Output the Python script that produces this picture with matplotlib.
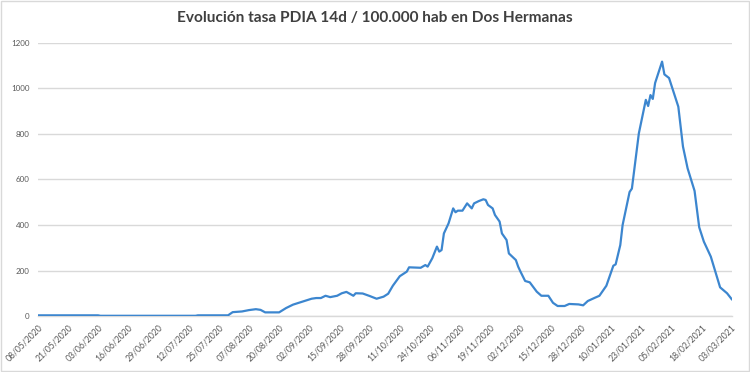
import matplotlib
matplotlib.use("Agg")
import matplotlib.pyplot as plt
from matplotlib.patches import Rectangle
import pandas as pd

title = "Evolución tasa PDIA 14d / 100.000 hab en Dos Hermanas"

dates = [
    "2020-05-08", "2020-06-03", "2020-06-04", "2020-07-15", "2020-07-16", "2020-07-29",
    "2020-07-31", "2020-08-04", "2020-08-07", "2020-08-10", "2020-08-12", "2020-08-14",
    "2020-08-20", "2020-08-23", "2020-08-26", "2020-08-30", "2020-09-03", "2020-09-05",
    "2020-09-07", "2020-09-09", "2020-09-11", "2020-09-14", "2020-09-16", "2020-09-18",
    "2020-09-21", "2020-09-22", "2020-09-25", "2020-09-28", "2020-10-01", "2020-10-04",
    "2020-10-06", "2020-10-08", "2020-10-11", "2020-10-14", "2020-10-15", "2020-10-20",
    "2020-10-22", "2020-10-23", "2020-10-25", "2020-10-27", "2020-10-28", "2020-10-29",
    "2020-10-30", "2020-11-01", "2020-11-03", "2020-11-04", "2020-11-05", "2020-11-07",
    "2020-11-09", "2020-11-11", "2020-11-12", "2020-11-14", "2020-11-16", "2020-11-17",
    "2020-11-18", "2020-11-20", "2020-11-21", "2020-11-23", "2020-11-24", "2020-11-26",
    "2020-11-27", "2020-11-30", "2020-12-01", "2020-12-02", "2020-12-04", "2020-12-06",
    "2020-12-09", "2020-12-11", "2020-12-14", "2020-12-16", "2020-12-18", "2020-12-21",
    "2020-12-23", "2020-12-27", "2020-12-29", "2020-12-31", "2021-01-03", "2021-01-05",
    "2021-01-08", "2021-01-11", "2021-01-12", "2021-01-14", "2021-01-15", "2021-01-18",
    "2021-01-19", "2021-01-22", "2021-01-25", "2021-01-26", "2021-01-27", "2021-01-28",
    "2021-01-29", "2021-02-01", "2021-02-02", "2021-02-04", "2021-02-08", "2021-02-10",
    "2021-02-12", "2021-02-15", "2021-02-17", "2021-02-19", "2021-02-22", "2021-02-26",
    "2021-03-01", "2021-03-03",
]
values = [
    3, 3, 1, 1, 3, 3,
    17, 20, 26, 30, 27, 16,
    16, 35, 50, 63, 76, 79,
    79, 89, 83, 89, 100, 106,
    89, 100, 99, 88, 76, 85,
    98, 133, 175, 195, 214, 212,
    224, 217, 254, 305, 283, 290,
    363, 407, 473, 456, 463, 463,
    495, 473, 495, 505, 513, 510,
    488, 473, 444, 415, 363, 334,
    275, 246, 217, 195, 154, 148,
    107, 89, 89, 58, 44, 44,
    53, 51, 47, 66, 80, 89,
    133, 221, 227, 312, 400, 545,
    560, 803, 950, 923, 971, 954,
    1024, 1118, 1062, 1046, 920, 745,
    649, 550, 390, 327, 261, 126,
    100, 74,
]

tick_start = "2020-05-08"
tick_end = "2021-03-03"
tick_step_days = 13
y_ticks = [0, 200, 400, 600, 800, 1000, 1200]

x = pd.to_datetime(dates)
tick_dates = pd.date_range(tick_start, tick_end, freq=f"{tick_step_days}D")

plt.rcParams["font.family"] = ["Lato", "DejaVu Sans"]

fig = plt.figure(figsize=(7.5, 3.72), dpi=100)
fig.patch.set_facecolor("white")
ax = fig.add_axes([0.0503, 0.1505, 0.9253, 0.734])

ax.plot(x, values, color="#3C86CF", linewidth=1.6, solid_joinstyle="round", zorder=3)

ax.set_xlim(pd.Timestamp(tick_start), pd.Timestamp(tick_end))
ax.set_ylim(0, 1200)
ax.set_yticks(y_ticks)
ax.set_yticklabels([str(v) for v in y_ticks])
ax.set_xticks(tick_dates)
ax.set_xticklabels([d.strftime("%d/%m/%Y") for d in tick_dates])

ax.grid(axis="y", color="#D9D9D9", linewidth=1.0, zorder=0)
ax.set_axisbelow(True)
for s in ["top", "right", "left"]:
    ax.spines[s].set_visible(False)
ax.spines["bottom"].set_color("#D9D9D9")
ax.spines["bottom"].set_linewidth(1.0)

ax.tick_params(axis="y", length=0, colors="#595959", labelsize=5.8, pad=6)
ax.tick_params(axis="x", length=0, colors="#595959", labelsize=6.2, pad=5)
for lbl in ax.get_xticklabels():
    lbl.set_rotation(45)
    lbl.set_ha("right")
    lbl.set_rotation_mode("anchor")

fig.text(0.500, 0.952, title, ha="center", va="center", fontsize=11.1,
         fontweight="bold", color="#404040")

fig.patches.append(Rectangle((0.001, 0.002), 0.997, 0.995, transform=fig.transFigure,
                             fill=False, edgecolor="#D9D9D9", linewidth=1.0))

fig.savefig("out.png", dpi=100)
